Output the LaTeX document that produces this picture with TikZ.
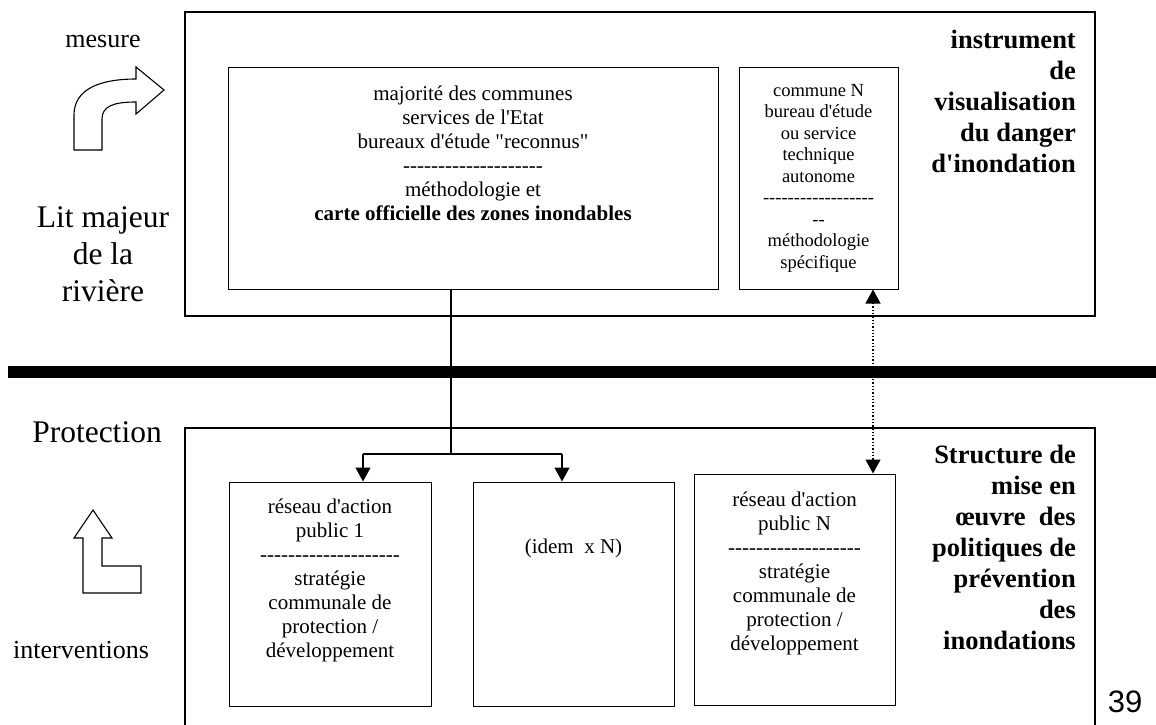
\documentclass[tikz,border=0pt]{standalone}
\usepackage{fontspec}
\setmainfont{Liberation Serif}[Ligatures=TeXOff]
\newfontfamily\arialfont{Liberation Sans}
\usetikzlibrary{arrows.meta}
\tikzset{
  outerbox/.style={draw, line width=1.4pt, inner sep=0pt},
  innerbox/.style={draw, line width=1pt, inner sep=0pt},
  boxtext/.style={inner sep=0pt, align=center, font=\fontsize{21}{24}\selectfont},
  smalltext/.style={inner sep=0pt, align=center, font=\fontsize{18.5}{21.5}\selectfont},
  titletext/.style={inner sep=0pt, align=right, font=\bfseries\fontsize{26.5}{31}\selectfont},
  sidelabel/.style={inner sep=0pt, align=center, font=\fontsize{26}{30}\selectfont},
  biglabel/.style={inner sep=0pt, align=center, font=\fontsize{31.5}{37}\selectfont},
  link/.style={line width=1.4pt},
  arr/.style={line width=1.4pt, -{Triangle[width=15pt,length=14pt]}},
  dotarr/.style={line width=1.3pt, dotted, {Triangle[width=15pt,length=14pt]}-{Triangle[width=15pt,length=14pt]}},
  blockarrow/.style={draw, line width=1.1pt, fill=white, line join=miter}
}
\begin{document}
\begin{tikzpicture}[x=1pt,y=-1pt]
\useasboundingbox (0,0) rectangle (1156,724);

% outer frames
\node[outerbox, minimum width=910pt, minimum height=304pt] (topframe) at (640,164) {};
\node[outerbox, minimum width=910pt, minimum height=310pt] (botframe) at (640,583) {};

% thick separator bar
\fill (8,366) rectangle (1156,378);

% top inner boxes
\node[innerbox, minimum width=490pt, minimum height=222pt] (tl) at (473,178) {};
\node[innerbox, minimum width=159pt, minimum height=222pt] (tr) at (818.5,178) {};

\node[boxtext, anchor=north] (tltext) at (473,86) {majorité des communes\\services de l'Etat\\bureaux d'étude "reconnus"\\-{}-{}-{}-{}-{}-{}-{}-{}-{}-{}-{}-{}-{}-{}-{}-{}-{}-{}-{}-\\méthodologie et\\\textbf{carte officielle des zones inondables}};

\node[smalltext, anchor=north] (trtext) at (818.5,84) {commune N\\bureau d'étude\\ou service\\technique\\autonome\\-{}-{}-{}-{}-{}-{}-{}-{}-{}-{}-{}-{}-{}-{}-{}-{}-{}-\\-{}-\\méthodologie\\spécifique};

\node[titletext, anchor=north east] (toptitle) at (1076,30) {instrument\\de\\visualisation\\du danger\\d'inondation};

% bottom inner boxes
\node[innerbox, minimum width=202pt, minimum height=224pt] (b1) at (330,594) {};
\node[innerbox, minimum width=201pt, minimum height=224pt] (b2) at (573.5,594) {};
\node[innerbox, minimum width=201pt, minimum height=231pt] (b3) at (794.5,589.5) {};

\node[boxtext, anchor=north] (b1text) at (330,499) {réseau d'action\\public 1\\-{}-{}-{}-{}-{}-{}-{}-{}-{}-{}-{}-{}-{}-{}-{}-{}-{}-{}-{}-\\stratégie\\communale de\\protection /\\développement};
\node[boxtext] (b2text) at (573.5,548) {(idem\ \ x N)};
\node[boxtext, anchor=north] (b3text) at (794.5,492) {réseau d'action\\public N\\-{}-{}-{}-{}-{}-{}-{}-{}-{}-{}-{}-{}-{}-{}-{}-{}-{}-{}-\\stratégie\\communale de\\protection /\\développement};

\node[titletext, anchor=north east] (bottitle) at (1076,445) {Structure de\\mise en\\œuvre\ \ des\\politiques de\\prévention\\des\\inondations};

% connectors
\coordinate (split) at (451,454);
\coordinate (j1) at (363,454);
\coordinate (j2) at (562,454);
\coordinate (dx) at (873,0);
\draw[link] (split |- tl.south) -- (split);
\draw[link] (j1) -- (j2);
\draw[arr] (j1) -- (j1 |- b1.north);
\draw[arr] (j2) -- (j2 |- b2.north);
\draw[dotarr] (dx |- tr.south) -- (dx |- b3.north);

% side labels
\node[sidelabel] (mesure) at (103,41) {mesure};
\node[biglabel] (lit) at (103,254) {Lit majeur\\de la\\rivière};
\node[biglabel] (protection) at (97,432) {Protection};
\node[sidelabel] (interv) at (81,650) {interventions};
\node[inner sep=0pt, font=\arialfont\fontsize{31}{36}\selectfont] (pagenum) at (1125,702) {39};

% block arrows
\draw[blockarrow] (74,150) -- (74,115) .. controls (74,89) and (100,79) .. (136,79) -- (136,67) -- (164,90) -- (136,114) -- (136,102) .. controls (114,102) and (102,106) .. (102,119) -- (102,150) -- cycle;
\draw[blockarrow] (93,510) -- (112,538) -- (102,538) -- (102,566) -- (141,566) -- (141,593) -- (83,593) -- (83,538) -- (74,538) -- cycle;
\end{tikzpicture}
\end{document}
